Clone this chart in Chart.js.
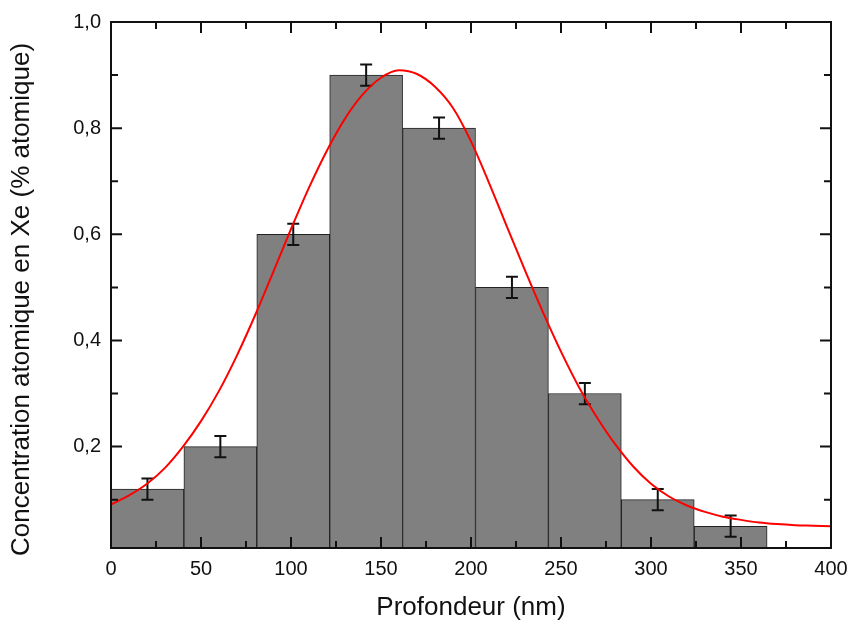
<!DOCTYPE html>
<html>
<head>
<meta charset="utf-8">
<script src="https://cdn.jsdelivr.net/npm/chart.js@4/dist/chart.umd.min.js"></script>
<style>
  html, body { margin: 0; padding: 0; background: #fff; }
  #wrap { width: 850px; height: 621px; }
</style>
</head>
<body>
<div id="wrap"><canvas id="chart" width="850" height="621"></canvas></div>
<script>
// Histogram bins (depth centres in nm) and measured concentration
const depthCenters = [20.25, 60.75, 101.25, 141.75, 182.25, 222.75, 263.25, 303.75, 344.25];
const concentrations = [0.12, 0.20, 0.60, 0.90, 0.80, 0.50, 0.30, 0.10, 0.05];
const errors = [0.02, 0.02, 0.02, 0.02, 0.02, 0.02, 0.02, 0.02, 0.02];

// Red fitted curve, every 10 nm
const fitDepth = [0, 10, 20, 30, 40, 50, 60, 70, 80, 90, 100, 110, 120, 130, 140, 150, 160, 170, 180, 190, 200,
  210, 220, 230, 240, 250, 260, 270, 280, 290, 300, 310, 320, 330, 340, 350, 360, 370, 380, 390, 400];
const fitValues = [0.091, 0.108, 0.130, 0.160, 0.200, 0.248, 0.305, 0.372, 0.447, 0.528, 0.610, 0.688, 0.758,
  0.818, 0.864, 0.895, 0.909, 0.902, 0.878, 0.838, 0.775, 0.697, 0.614, 0.532, 0.453, 0.379, 0.312, 0.255,
  0.205, 0.163, 0.130, 0.106, 0.089, 0.077, 0.068, 0.062, 0.057, 0.054, 0.052, 0.051, 0.050];

// Axis ticks
const xTicks = [0, 50, 100, 150, 200, 250, 300, 350, 400];
const xMinor = [25, 75, 125, 175, 225, 275, 325, 375];
const yTicks = [0.2, 0.4, 0.6, 0.8, 1.0];
const yMinor = [0.1, 0.3, 0.5, 0.7, 0.9];

const FONT = '"Liberation Sans", Arial, sans-serif';
const INK = '#111';

// Error bars, drawn right after the bars so the curve stays on top
const errorBars = {
  id: 'errorBars',
  afterDatasetDraw(chart, args) {
    if (args.index !== 0) return;
    const ctx = chart.ctx;
    const y = chart.scales.y;
    const bars = chart.getDatasetMeta(0).data;
    ctx.save();
    ctx.strokeStyle = INK;
    ctx.lineWidth = 2;
    bars.forEach((bar, i) => {
      const top = y.getPixelForValue(concentrations[i] + errors[i]);
      const bot = y.getPixelForValue(concentrations[i] - errors[i]);
      ctx.beginPath();
      ctx.moveTo(bar.x, top); ctx.lineTo(bar.x, bot);
      ctx.moveTo(bar.x - 6, top); ctx.lineTo(bar.x + 6, top);
      ctx.moveTo(bar.x - 6, bot); ctx.lineTo(bar.x + 6, bot);
      ctx.stroke();
    });
    ctx.restore();
  }
};

// Box frame with inward ticks on all four sides
const frame = {
  id: 'frame',
  afterDraw(chart) {
    const { ctx, chartArea: a, scales } = chart;
    ctx.save();
    ctx.strokeStyle = INK;
    ctx.lineWidth = 2;
    ctx.strokeRect(a.left, a.top, a.right - a.left, a.bottom - a.top);
    ctx.beginPath();
    const xt = (v, len) => {
      const px = scales.x.getPixelForValue(v);
      ctx.moveTo(px, a.bottom); ctx.lineTo(px, a.bottom - len);
      ctx.moveTo(px, a.top); ctx.lineTo(px, a.top + len);
    };
    const yt = (v, len) => {
      const py = scales.y.getPixelForValue(v);
      ctx.moveTo(a.left, py); ctx.lineTo(a.left + len, py);
      ctx.moveTo(a.right, py); ctx.lineTo(a.right - len, py);
    };
    xTicks.forEach(v => xt(v, 11));
    xMinor.forEach(v => xt(v, 7));
    yTicks.forEach(v => yt(v, 11));
    yMinor.forEach(v => yt(v, 7));
    ctx.stroke();
    ctx.restore();
  }
};

new Chart(document.getElementById('chart'), {
  type: 'bar',
  data: {
    datasets: [
      {
        type: 'bar',
        data: depthCenters.map((d, i) => ({ x: d, y: concentrations[i] })),
        backgroundColor: '#808080',
        borderColor: '#222',
        borderWidth: 1,
        barPercentage: 1,
        categoryPercentage: 1,
        order: 2
      },
      {
        type: 'line',
        data: fitDepth.map((d, i) => ({ x: d, y: fitValues[i] })),
        borderColor: '#ff0000',
        borderWidth: 2,
        pointRadius: 0,
        cubicInterpolationMode: 'monotone',
        fill: false,
        order: 1
      }
    ]
  },
  options: {
    responsive: false,
    animation: false,
    devicePixelRatio: 1,
    layout: { padding: { top: 22, right: 19, left: 0, bottom: 0 } },
    plugins: { legend: { display: false }, tooltip: { enabled: false } },
    scales: {
      x: {
        type: 'linear',
        min: 0,
        max: 400,
        offset: false,
        grid: { display: false, drawTicks: false },
        border: { display: false },
        afterBuildTicks: s => { s.ticks = xTicks.map(v => ({ value: v })); },
        afterFit: s => { s.height = 73; s.paddingLeft = 0; s.paddingRight = 0; },
        ticks: {
          autoSkip: false, maxRotation: 0, padding: 9, color: INK,
          font: { family: FONT, size: 20 }
        },
        title: {
          display: true, text: 'Profondeur (nm)', color: INK,
          font: { family: FONT, size: 26, lineHeight: 1 }, padding: { top: 0, bottom: 0 }
        }
      },
      y: {
        min: 0.009,
        max: 1.0,
        grid: { display: false, drawTicks: false },
        border: { display: false },
        afterBuildTicks: s => { s.ticks = yTicks.map(v => ({ value: v })); },
        afterFit: s => { s.width = 111; s.paddingTop = 0; s.paddingBottom = 0; },
        ticks: {
          autoSkip: false, padding: 10, color: INK,
          font: { family: FONT, size: 20 },
          callback: v => v.toFixed(1).replace('.', ',')
        },
        title: {
          display: true, text: 'Concentration atomique en Xe (% atomique)    ', color: INK,
          font: { family: FONT, size: 26, lineHeight: 1 }, padding: { top: 9, bottom: 0 }
        }
      }
    }
  },
  plugins: [errorBars, frame]
});
</script>
</body>
</html>
